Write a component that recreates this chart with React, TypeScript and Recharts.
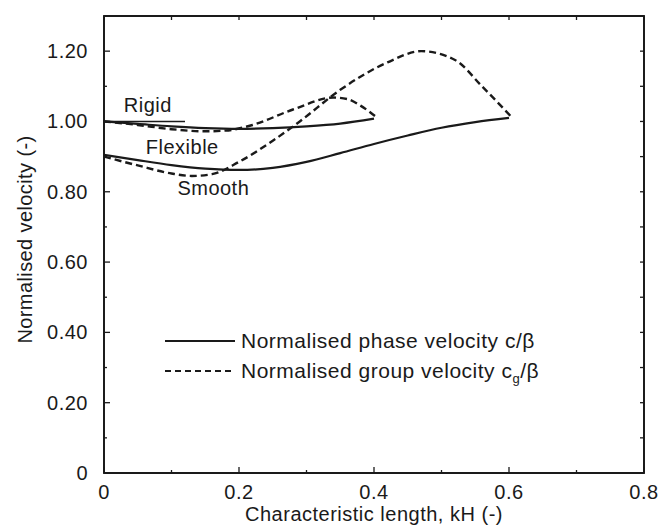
import { LineChart, Line, XAxis, YAxis, ReferenceDot, ReferenceArea } from 'recharts';

// Rigid reference line (short flat segment at c/beta = 1)
const rigidKh = [0, 0.12];
const rigidVel = [1.0, 1.0];

// Flexible: phase (solid) and group (dashed) velocity
const flexKh = [0, 0.05, 0.1, 0.15, 0.2, 0.25, 0.3, 0.35, 0.4];
const flexPhase = [1.0, 0.993, 0.986, 0.981, 0.979, 0.981, 0.986, 0.994, 1.008];
const flexGroupKh = [0, 0.05, 0.1, 0.15, 0.18, 0.22, 0.28, 0.34, 0.36, 0.38, 0.405];
const flexGroup = [1.0, 0.99, 0.978, 0.972, 0.974, 0.99, 1.034, 1.068, 1.064, 1.045, 1.01];

// Smooth: phase (solid) and group (dashed) velocity
const smoothKh = [0, 0.05, 0.1, 0.15, 0.2, 0.25, 0.3, 0.35, 0.4, 0.45, 0.5, 0.55, 0.6];
const smoothPhase = [0.905, 0.89, 0.876, 0.866, 0.862, 0.868, 0.885, 0.91, 0.936, 0.96, 0.982, 0.998, 1.01];
const smoothGroupKh = [0, 0.05, 0.1, 0.13, 0.16, 0.2, 0.25, 0.29, 0.35, 0.42, 0.47, 0.52, 0.56, 0.605];
const smoothGroup = [0.9, 0.875, 0.852, 0.845, 0.85, 0.885, 0.945, 1.0, 1.09, 1.168, 1.2, 1.175, 1.1, 1.01];

const xTicks = [0, 0.1, 0.2, 0.3, 0.4, 0.5, 0.6, 0.7, 0.8];
const yTicks = [0, 0.1, 0.2, 0.3, 0.4, 0.5, 0.6, 0.7, 0.8, 0.9, 1.0, 1.1, 1.2];

const curveLabels = ['Rigid', 'Flexible', 'Smooth'];
const curveLabelKh = [0.065, 0.116, 0.162];
const curveLabelVel = [1.048, 0.926, 0.812];

const legendLabels = ['Normalised phase velocity c/β', 'Normalised group velocity c'];

const ink = '#1a1a1a';
const font = '"Liberation Sans", Arial, sans-serif';

const toPoints = (xs: number[], ys: number[]) => xs.map((x, i) => ({ kh: x, v: ys[i] }));

const isMajor = (v: number) => Math.round(v * 10) % 2 === 0;
const fmtX = (v: number) => (v === 0 ? '0' : v.toFixed(1));
const fmtY = (v: number) => (v === 0 ? '0' : v.toFixed(2));

const BottomTick = ({ x, y, payload }: any) => {
  const major = isMajor(payload.value);
  return (
    <g>
      <line x1={x} x2={x} y1={y} y2={y - (major ? 6 : 3)} stroke={ink} strokeWidth={1.3} />
      {major && (
        <text x={x} y={y + 19} textAnchor="middle" dominantBaseline="central"
          fill={ink} fontSize={20} fontFamily={font} letterSpacing={0.5}>
          {fmtX(payload.value)}
        </text>
      )}
    </g>
  );
};

const LeftTick = ({ x, y, payload }: any) => {
  const major = isMajor(payload.value);
  return (
    <g>
      <line x1={x} x2={x + (major ? 6 : 3)} y1={y} y2={y} stroke={ink} strokeWidth={1.3} />
      {major && (
        <text x={x - 16} y={y} textAnchor="end" dominantBaseline="central"
          fill={ink} fontSize={20} fontFamily={font} letterSpacing={0.5}>
          {fmtY(payload.value)}
        </text>
      )}
    </g>
  );
};

const TopTick = ({ x, y }: any) => (
  <line x1={x} x2={x} y1={y} y2={y + 4} stroke={ink} strokeWidth={1.3} />
);

const RightTick = ({ x, y }: any) => (
  <line x1={x} x2={x - 4} y1={y} y2={y} stroke={ink} strokeWidth={1.3} />
);

const XTitle = ({ viewBox }: any) => (
  <text x={viewBox.x + viewBox.width / 2} y={viewBox.y + 41} textAnchor="middle"
    dominantBaseline="central" fill={ink} fontSize={20} fontFamily={font} letterSpacing={0.5}>
    Characteristic length, kH (-)
  </text>
);

const YTitle = ({ viewBox }: any) => {
  const cx = 25;
  const cy = viewBox.y + viewBox.height / 2 - 5;
  return (
    <text x={cx} y={cy} transform={`rotate(-90 ${cx} ${cy})`} textAnchor="middle"
      dominantBaseline="central" fill={ink} fontSize={20} fontFamily={font} letterSpacing={0.4}>
      Normalised velocity (-)
    </text>
  );
};

const CurveLabel = (text: string) => (props: any) => (
  <text x={props.cx} y={props.cy} textAnchor="middle" dominantBaseline="central"
    fill={ink} fontSize={20} fontFamily={font} letterSpacing={0.5}>
    {text}
  </text>
);

const App = () => {
  const axisLine = { stroke: ink, strokeWidth: 1.8 };
  return (
    <div style={{ position: 'absolute', left: 0, top: 0, width: 663, height: 527, background: '#fff' }}>
      <LineChart width={663} height={527} margin={{ top: 15, right: 18, bottom: 0, left: 0 }}>
        <XAxis dataKey="kh" type="number" domain={[0, 0.8]} ticks={xTicks} interval={0}
          allowDataOverflow height={54} axisLine={axisLine} tickLine={false}
          tickSize={0} tickMargin={0} tick={<BottomTick />} label={<XTitle />} />
        <XAxis xAxisId="top" orientation="top" dataKey="kh" type="number" domain={[0, 0.8]}
          ticks={xTicks} interval={0} allowDataOverflow height={1} axisLine={axisLine}
          tickLine={false} tickSize={0} tickMargin={0} tick={<TopTick />} />
        <YAxis type="number" domain={[0, 1.3]} ticks={yTicks} interval={0} allowDataOverflow
          width={104} axisLine={axisLine} tickLine={false} tickSize={0} tickMargin={0}
          tick={<LeftTick />} label={<YTitle />} />
        <YAxis yAxisId="right" orientation="right" type="number" domain={[0, 1.3]} ticks={yTicks}
          interval={0} allowDataOverflow width={1} axisLine={axisLine} tickLine={false}
          tickSize={0} tickMargin={0} tick={<RightTick />} />

        {/* plot frame */}
        <ReferenceArea x1={0} x2={0.8} y1={0} y2={1.3} fill="none" stroke={ink}
          strokeWidth={1.8} ifOverflow="visible" />

        <Line data={toPoints(rigidKh, rigidVel)} dataKey="v" type="linear" stroke={ink}
          strokeWidth={1.4} dot={false} isAnimationActive={false} />
        <Line data={toPoints(flexKh, flexPhase)} dataKey="v" type="monotone" stroke={ink}
          strokeWidth={2.2} dot={false} isAnimationActive={false} />
        <Line data={toPoints(flexGroupKh, flexGroup)} dataKey="v" type="monotone" stroke={ink}
          strokeWidth={2.4} strokeDasharray="7 4" dot={false} isAnimationActive={false} />
        <Line data={toPoints(smoothKh, smoothPhase)} dataKey="v" type="monotone" stroke={ink}
          strokeWidth={2.2} dot={false} isAnimationActive={false} />
        <Line data={toPoints(smoothGroupKh, smoothGroup)} dataKey="v" type="monotone" stroke={ink}
          strokeWidth={2.4} strokeDasharray="7 4" dot={false} isAnimationActive={false} />

        {curveLabels.map((name, i) => (
          <ReferenceDot key={name} x={curveLabelKh[i]} y={curveLabelVel[i]} r={0}
            shape={CurveLabel(name)} />
        ))}
      </LineChart>

      {/* Legend */}
      <div style={{ position: 'absolute', left: 165, top: 326, fontFamily: font, fontSize: 21,
        letterSpacing: 0.5, color: ink, lineHeight: '30px', whiteSpace: 'nowrap' }}>
        <div style={{ display: 'flex', alignItems: 'center', gap: 6 }}>
          <svg width={70} height={4}><line x1={0} x2={70} y1={2} y2={2} stroke={ink} strokeWidth={2} /></svg>
          <span>{legendLabels[0]}</span>
        </div>
        <div style={{ display: 'flex', alignItems: 'center', gap: 8 }}>
          <svg width={68} height={4}><line x1={0} x2={68} y1={2} y2={2} stroke={ink} strokeWidth={2} strokeDasharray="6 4" /></svg>
          <span>{legendLabels[1]}<sub style={{ fontSize: 13, lineHeight: 0 }}>g</sub>/β</span>
        </div>
      </div>
    </div>
  );
};

export default App;
